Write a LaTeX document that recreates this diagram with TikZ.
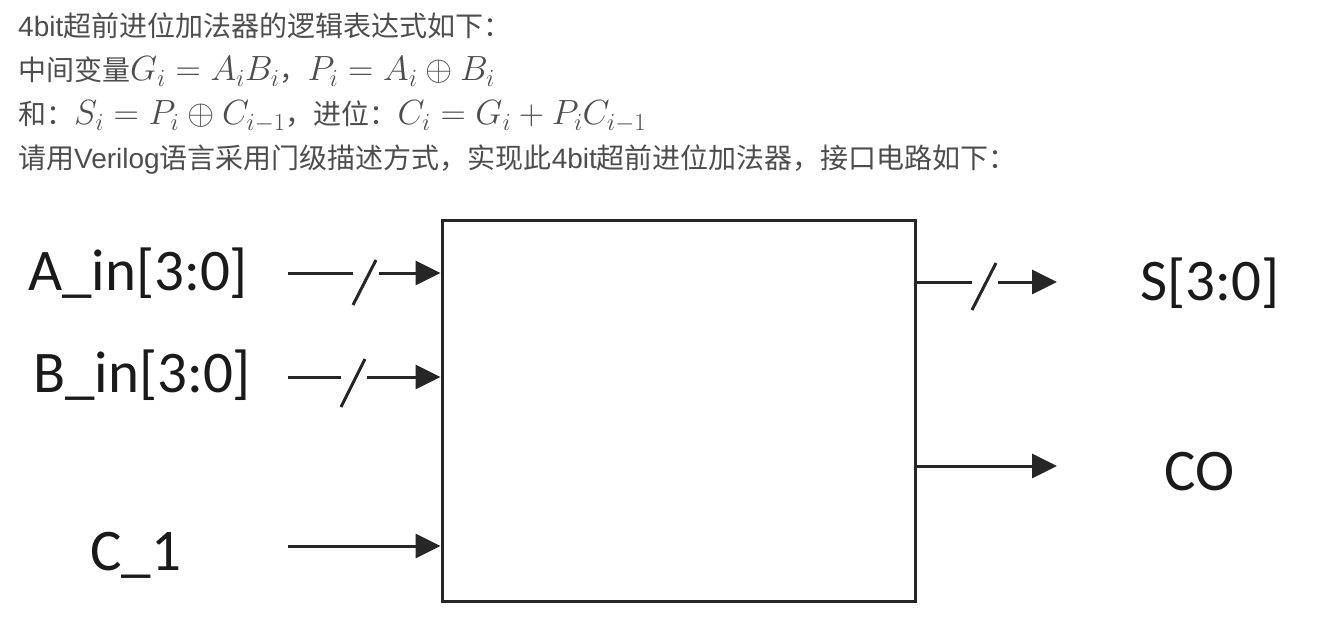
\RequirePackage{fix-cm}
\documentclass[tikz,border=0pt]{standalone}
\usepackage{fontspec}
\usepackage{amsmath}
\setmainfont{Liberation Sans}
\newfontfamily\cjk{Noto Sans CJK SC}
\newfontfamily\portfont{Carlito}
\usetikzlibrary{arrows.meta}

\definecolor{wirecol}{HTML}{262626}
\definecolor{headcol}{HTML}{4D4D4D}
\definecolor{portcol}{HTML}{1A1A1A}

\newcommand{\bigmath}[1]{{\fontsize{35}{35}\selectfont$#1$}}

\tikzset{
    wire/.style={draw=wirecol, line width=3pt},
    tip/.style={-{Triangle[length=25pt,width=24pt]}},
    port/.style={font=\portfont\fontsize{59}{59}\selectfont, text=portcol, anchor=base west, inner sep=0pt},
    header/.style={font=\fontsize{28}{28}\selectfont, text=headcol, anchor=base west, inner sep=0pt},
}

\begin{document}
\begin{tikzpicture}[x=1pt,y=-1pt]
    \useasboundingbox (0,0) rectangle (1317,623);
    % task text
    \node[header] (line1) at (18,37) {4bit{\cjk 超前进位加法器的逻辑表达式如下：}};
    \node[header] (line2) at (18,81) {{\cjk 中间变量}\bigmath{G_i = A_iB_i}{\cjk ，}\bigmath{P_i = A_i \oplus B_i}};
    \node[header] (line3) at (18,125) {{\cjk 和：}\bigmath{S_i = P_i \oplus C_{i-1}}{\cjk ，进位：}\bigmath{C_i = G_i + P_iC_{i-1}}};
    \node[header] (line4) at (18,168) {{\cjk 请用}Verilog{\cjk 语言采用门级描述方式，实现此}4bit{\cjk 超前进位加法器，接口电路如下：}};
    % adder block
    \node[wire, minimum width=473pt, minimum height=381pt, inner sep=0pt] (adder) at (678.5,410.5) {};
    % port names
    \node[port] (ain) at (28,290) {A\_in[3:0]};
    \node[port] (bin) at (33,392) {B\_in[3:0]};
    \node[port] (cin) at (90,570) {C\_1};
    \node[port] (sout) at (1140,300) {S[3:0]};
    \node[port] (cout) at (1164,490) {CO};
    % wire ends
    \coordinate (a0) at (288,273);
    \coordinate (a1) at (353,273);
    \coordinate (a2) at (379,273);
    \coordinate (b0) at (288,377);
    \coordinate (b1) at (341,377);
    \coordinate (b2) at (367,377);
    \coordinate (c0) at (288,546);
    \coordinate (s1) at (972,282);
    \coordinate (s2) at (998,282);
    \coordinate (s3) at (1057,282);
    \coordinate (co) at (1057,466);
    % inputs
    \draw[wire] (a0) -- (a1);
    \draw[wire] ([yshift=-32pt]a1) -- ([xshift=23pt,yshift=13pt]a1);
    \draw[wire,tip] (a2) -- (adder.west |- a2);
    \draw[wire] (b0) -- (b1);
    \draw[wire] ([yshift=-30pt]b1) -- ([xshift=24pt,yshift=18pt]b1);
    \draw[wire,tip] (b2) -- (adder.west |- b2);
    \draw[wire,tip] (c0) -- (adder.west |- c0);
    % outputs
    \draw[wire] (adder.east |- s1) -- (s1);
    \draw[wire] ([yshift=-28pt]s1) -- ([xshift=24pt,yshift=19pt]s1);
    \draw[wire,tip] (s2) -- (s3);
    \draw[wire,tip] (adder.east |- co) -- (co);
\end{tikzpicture}
\end{document}
